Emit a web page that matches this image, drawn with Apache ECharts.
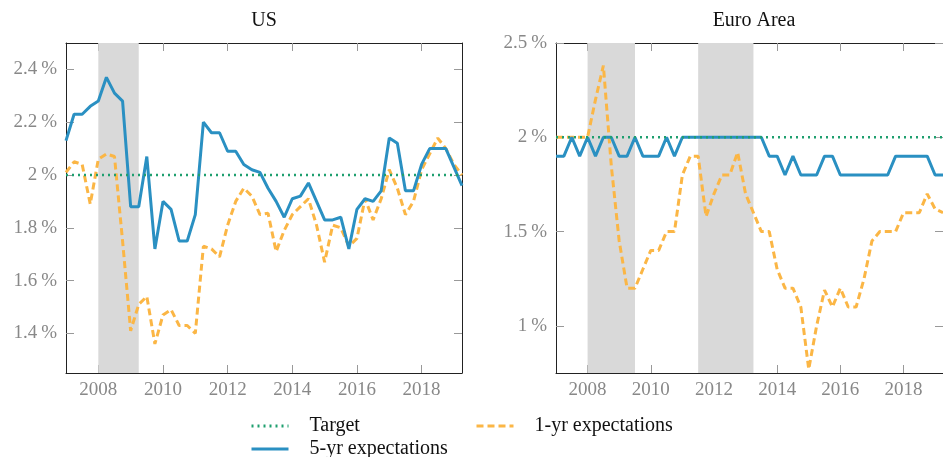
<!DOCTYPE html>
<html>
<head>
<meta charset="utf-8">
<script src="https://cdn.jsdelivr.net/npm/echarts@6/dist/echarts.min.js"></script>
<style>
html, body { margin: 0; padding: 0; background: #fff; }
#chart { width: 943px; height: 457px; }
</style>
</head>
<body>
<div id="chart"></div>
<script>
// quarterly observations, first one is 2007Q1
const startYear = 2007;
const endYear = 2019.25;
const usFiveYr = [2.13, 2.23, 2.23, 2.26, 2.28, 2.37, 2.31, 2.28, 1.88, 1.88,
  2.07, 1.72, 1.90, 1.87, 1.75, 1.75, 1.85, 2.20, 2.16, 2.16,
  2.09, 2.09, 2.04, 2.02, 2.01, 1.95, 1.90, 1.84, 1.91, 1.92,
  1.97, 1.90, 1.83, 1.83, 1.84, 1.72, 1.87, 1.91, 1.90, 1.94,
  2.14, 2.12, 1.94, 1.94, 2.04, 2.10, 2.10, 2.10, 2.03, 1.96];
const usOneYr = [2.01, 2.05, 2.04, 1.89, 2.06, 2.08, 2.07, 1.75, 1.41, 1.51,
  1.54, 1.36, 1.47, 1.49, 1.43, 1.43, 1.40, 1.73, 1.72, 1.69,
  1.81, 1.90, 1.95, 1.92, 1.85, 1.855, 1.71, 1.79, 1.85, 1.88,
  1.91, 1.81, 1.67, 1.81, 1.80, 1.73, 1.76, 1.91, 1.83, 1.91,
  2.02, 1.95, 1.85, 1.90, 2.02, 2.08, 2.14, 2.10, 2.04, 2.00];
const euFiveYr = [1.9, 1.9, 2.0, 1.9, 2.0, 1.9, 2.0, 2.0, 1.9, 1.9,
  2.0, 1.9, 1.9, 1.9, 2.0, 1.9, 2.0, 2.0, 2.0, 2.0,
  2.0, 2.0, 2.0, 2.0, 2.0, 2.0, 2.0, 1.9, 1.9, 1.8,
  1.9, 1.8, 1.8, 1.8, 1.9, 1.9, 1.8, 1.8, 1.8, 1.8,
  1.8, 1.8, 1.8, 1.9, 1.9, 1.9, 1.9, 1.9, 1.8, 1.8];
const euOneYr = [2.0, 2.0, 2.0, 2.0, 2.0, 2.2, 2.38, 1.85, 1.45, 1.2,
  1.2, 1.3, 1.4, 1.4, 1.5, 1.5, 1.8, 1.9, 1.9, 1.58,
  1.7, 1.8, 1.8, 1.92, 1.7, 1.6, 1.5, 1.5, 1.3, 1.2,
  1.2, 1.1, 0.77, 1.0, 1.19, 1.1, 1.2, 1.1, 1.1, 1.25,
  1.45, 1.5, 1.5, 1.5, 1.6, 1.6, 1.6, 1.7, 1.62, 1.6];
const target = 2;
const yearTicks = [2008, 2010, 2012, 2014, 2016, 2018];
const usTicks = [1.4, 1.6, 1.8, 2, 2.2, 2.4];
const euTicks = [1, 1.5, 2, 2.5];
const usRecessions = [[2008, 2009.25]];
const euRecessions = [[2008, 2009.5], [2011.5, 2013.25]];

const font = "'Liberation Serif', 'DejaVu Serif', serif";
const colors = { target: "#1f9f6f", one: "#fbb645", five: "#2a90c2", shade: "#d9d9d9" };

function toPoints(values) {
  return values.map((v, i) => [startYear + i * 0.25, v]);
}

function xAxes(g) {
  const base = {
    type: "value", gridIndex: g, min: startYear, max: endYear,
    axisLine: { show: true, onZero: false, lineStyle: { color: "#222", width: 1 } },
    axisTick: { show: true, inside: true, length: 8, customValues: yearTicks, lineStyle: { color: "#999" } },
    splitLine: { show: false }
  };
  return [
    Object.assign({}, base, {
      position: "bottom",
      axisLabel: { customValues: yearTicks, formatter: v => String(v), color: "#888", fontFamily: font, fontSize: 19, margin: 8 }
    }),
    Object.assign({}, base, { position: "top", axisLabel: { show: false } })
  ];
}

function yAxes(g, min, max, ticks, fmt) {
  const base = {
    type: "value", gridIndex: g, min: min, max: max,
    axisLine: { show: true, onZero: false, lineStyle: { color: "#222", width: 1 } },
    axisTick: { show: true, inside: true, length: 8, customValues: ticks, lineStyle: { color: "#999" } },
    splitLine: { show: false }
  };
  return [
    Object.assign({}, base, {
      position: "left",
      axisLabel: { customValues: ticks, formatter: fmt, color: "#888", fontFamily: font, fontSize: 19, margin: 9 }
    }),
    Object.assign({}, base, { position: "right", axisLabel: { show: false } })
  ];
}

function panelSeries(g, one, five, recessions) {
  const ax = { xAxisIndex: g * 2, yAxisIndex: g * 2 };
  return [
    Object.assign({
      type: "line", name: "", data: [], silent: true, z: 1,
      markArea: {
        silent: true,
        itemStyle: { color: colors.shade },
        data: recessions.map(r => [{ xAxis: r[0] }, { xAxis: r[1] }])
      }
    }, ax),
    Object.assign({
      type: "line", name: "1-yr expectations", data: toPoints(one), symbol: "none", z: 3,
      itemStyle: { color: colors.one },
      lineStyle: { color: colors.one, width: 3, type: [7, 4] }
    }, ax),
    Object.assign({
      type: "line", name: "5-yr expectations", data: toPoints(five), symbol: "none", z: 4,
      itemStyle: { color: colors.five },
      lineStyle: { color: colors.five, width: 3 }
    }, ax),
    Object.assign({
      type: "line", name: "Target", data: [[startYear, target], [endYear, target]], symbol: "none", z: 5,
      itemStyle: { color: colors.target },
      lineStyle: { color: colors.target, width: 2.5, type: [2, 4] }
    }, ax)
  ];
}

const usFmt = v => (v === 2 ? "2" : v.toFixed(1)) + "\u2009%";
const euFmt = v => String(v) + "\u2009%";

// one legend per entry so the two-column layout can be placed by hand
function legendAt(name, left, top) {
  return {
    left: left, top: top, itemWidth: 37, itemHeight: 14, data: [name],
    itemStyle: { color: "rgba(0,0,0,0)", borderWidth: 0, opacity: 0 },
    lineStyle: { width: 3 },
    textStyle: { fontFamily: font, fontSize: 20, color: "#111", padding: [0, 0, 0, 16] }
  };
}

const chart = echarts.init(document.getElementById("chart"));
chart.setOption({
  animation: false,
  title: [
    { text: "US", left: 264, top: 11, textAlign: "center", padding: 0,
      textStyle: { fontFamily: font, fontSize: 20, fontWeight: "normal", color: "#111" } },
    { text: "Euro Area", left: 754, top: 11, textAlign: "center", padding: 0,
      textStyle: { fontFamily: font, fontSize: 20, fontWeight: "normal", color: "#111" } }
  ],
  grid: [
    { left: 66, top: 43, width: 396, height: 330 },
    { left: 556, top: 43, width: 395, height: 330 }
  ],
  legend: [
    legendAt("Target", 245, 411),
    legendAt("5-yr expectations", 245, 434),
    legendAt("1-yr expectations", 470, 411)
  ],
  xAxis: xAxes(0).concat(xAxes(1)),
  yAxis: yAxes(0, 1.25, 2.5, usTicks, usFmt).concat(yAxes(1, 0.75, 2.5, euTicks, euFmt)),
  series: panelSeries(0, usOneYr, usFiveYr, usRecessions).concat(panelSeries(1, euOneYr, euFiveYr, euRecessions))
});
</script>
</body>
</html>
